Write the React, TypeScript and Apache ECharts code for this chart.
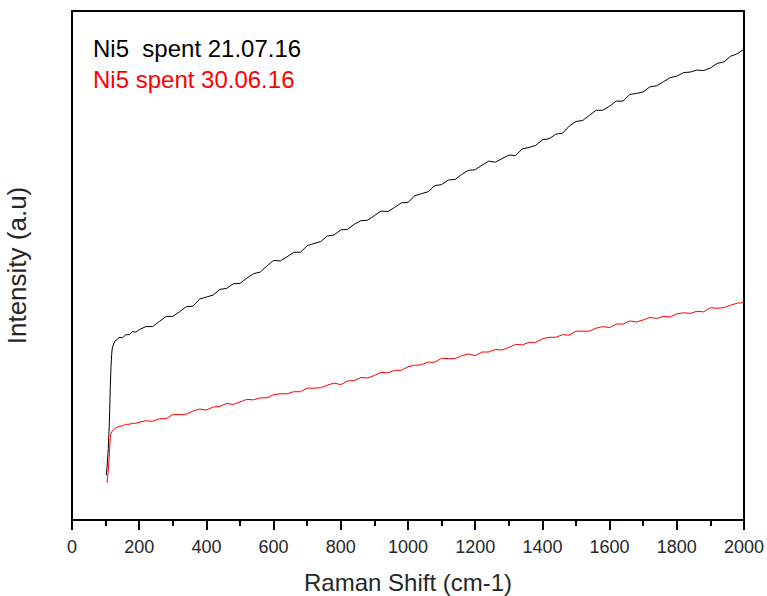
import React, { useEffect, useRef } from "react";
import * as echarts from "echarts";

const xTicks = ["0", "200", "400", "600", "800", "1000", "1200", "1400", "1600", "1800", "2000"];
const legendNames = ["Ni5  spent 21.07.16", "Ni5 spent 30.06.16"];

const blackSeries: [number, number][] = [
  [102, 8.8], [105, 11], [108, 14], [110, 17], [112, 21], [114, 26], [116, 30], [118, 32.5], [120, 33.8],
  [124, 34.6], [128, 35.2], [134, 35.4], [140, 35.9], [150, 35.8], [160, 36.4], [170, 36.4], [180, 37.0],
  [190, 36.9], [200, 37.4], [220, 38.0], [240, 38.0], [260, 39.0], [280, 40.0], [300, 40.0], [320, 40.9],
  [340, 41.9], [360, 42.0], [380, 43.4], [400, 43.8], [420, 44.2], [440, 45.3], [460, 45.5], [480, 46.4],
  [500, 46.5], [520, 47.5], [540, 48.4], [560, 48.7], [580, 49.9], [600, 51.0], [620, 50.9], [640, 51.7],
  [660, 52.6], [680, 52.6], [700, 53.9], [720, 54.3], [740, 54.7], [760, 55.8], [780, 56.0], [800, 57.0],
  [820, 57.1], [840, 58.1], [860, 58.8], [880, 58.9], [900, 59.8], [920, 60.7], [940, 60.6], [960, 61.4],
  [980, 62.3], [1000, 62.4], [1020, 63.7], [1040, 64.1], [1060, 64.5], [1080, 65.7], [1100, 65.9],
  [1120, 66.8], [1140, 66.9], [1160, 67.9], [1180, 68.7], [1200, 68.8], [1220, 69.7], [1240, 70.5],
  [1260, 70.3], [1280, 71.0], [1300, 71.7], [1320, 71.6], [1340, 72.9], [1360, 73.2], [1380, 73.6],
  [1400, 74.7], [1420, 74.9], [1440, 75.8], [1460, 76.0], [1480, 77.4], [1500, 78.3], [1520, 78.5],
  [1540, 79.5], [1560, 80.5], [1580, 80.5], [1600, 81.3], [1620, 82.3], [1640, 82.3], [1660, 83.6],
  [1680, 83.8], [1700, 84.1], [1720, 85.1], [1740, 85.3], [1760, 86.1], [1780, 86.9], [1800, 87.2],
  [1820, 87.9], [1840, 88.0], [1860, 88.4], [1880, 88.3], [1900, 88.8], [1920, 89.7], [1940, 90.0],
  [1960, 91.1], [1980, 91.6], [2000, 92.5],
];

const redSeries: [number, number][] = [
  [104, 7.3], [107, 9.0], [110, 11.5], [112, 14], [114, 16.2], [116, 17.0], [120, 17.5], [126, 17.9],
  [134, 18.2], [140, 18.4], [150, 18.5], [160, 18.8], [170, 18.8], [180, 19.0], [190, 19.0], [200, 19.2],
  [220, 19.5], [240, 19.4], [260, 19.9], [280, 19.9], [300, 20.7], [320, 20.7], [340, 20.8], [360, 21.4],
  [380, 21.8], [400, 21.6], [420, 22.2], [440, 22.3], [460, 22.9], [480, 22.7], [500, 23.2], [520, 23.7],
  [540, 23.6], [560, 24.0], [580, 24.0], [600, 24.6], [620, 24.8], [640, 24.8], [660, 25.2], [680, 25.2],
  [700, 25.9], [720, 25.9], [740, 26.0], [760, 26.5], [780, 26.9], [800, 26.6], [820, 27.3], [840, 27.4],
  [860, 28.0], [880, 27.9], [900, 28.4], [920, 29.0], [940, 28.9], [960, 29.4], [980, 29.4], [1000, 30.1],
  [1020, 30.4], [1040, 30.5], [1060, 31.0], [1080, 31.0], [1100, 31.8], [1120, 31.7], [1140, 31.7],
  [1160, 32.3], [1180, 32.6], [1200, 32.3], [1220, 33.0], [1240, 33.0], [1260, 33.5], [1280, 33.4],
  [1300, 33.9], [1320, 34.5], [1340, 34.4], [1360, 34.9], [1380, 34.9], [1400, 35.6], [1420, 35.9],
  [1440, 35.9], [1460, 36.4], [1480, 36.3], [1500, 37.1], [1520, 37.1], [1540, 37.1], [1560, 37.7],
  [1580, 38.0], [1600, 37.8], [1620, 38.5], [1640, 38.5], [1660, 39.1], [1680, 38.9], [1700, 39.3],
  [1720, 39.8], [1740, 39.6], [1760, 40.0], [1780, 39.9], [1800, 40.5], [1820, 40.7], [1840, 40.6],
  [1860, 41.0], [1880, 40.9], [1900, 41.7], [1920, 41.6], [1940, 41.7], [1960, 42.2], [1980, 42.6],
  [2000, 42.7],
];

const FONT = "'Liberation Sans', Arial, sans-serif";

export default function App() {
  const ref = useRef<HTMLDivElement>(null);
  useEffect(() => {
    if (!ref.current) return;
    const chart = echarts.init(ref.current, undefined, { renderer: "svg" });
    chart.setOption({
      animation: false,
      backgroundColor: "#ffffff",
      textStyle: { fontFamily: FONT },
      grid: {
        left: 72,
        right: 23,
        top: 11,
        bottom: 76,
        show: true,
        borderColor: "#000",
        borderWidth: 2,
        containLabel: false,
        outerBoundsMode: "none",
      },
      legend: {
        orient: "vertical",
        left: 83,
        top: 31,
        icon: "none",
        itemWidth: 0,
        itemHeight: 10,
        itemGap: 7,
        selectedMode: false,
        data: [
          { name: legendNames[0], textStyle: { color: "#000" } },
          { name: legendNames[1], textStyle: { color: "#ff0000" } },
        ],
        textStyle: { fontSize: 24, fontFamily: FONT },
      },
      xAxis: {
        type: "value",
        min: 0,
        max: 2000,
        interval: 200,
        name: "Raman Shift (cm-1)",
        nameLocation: "middle",
        nameGap: 50,
        nameTextStyle: { fontSize: 24, color: "#262626", fontFamily: FONT },
        axisLine: { show: true, onZero: false, lineStyle: { color: "#000", width: 2 } },
        axisTick: { show: true, inside: false, length: 10, lineStyle: { color: "#000", width: 2 } },
        minorTick: { show: true, splitNumber: 2, length: 6, lineStyle: { color: "#000", width: 2 } },
        axisLabel: {
          fontSize: 18,
          color: "#262626",
          margin: 18,
          fontFamily: FONT,
          formatter: (v: number) => xTicks[Math.round(v / 200)] ?? String(v),
        },
        splitLine: { show: false },
        minorSplitLine: { show: false },
      },
      yAxis: {
        type: "value",
        min: 0,
        max: 100,
        name: "Intensity (a.u)",
        nameLocation: "middle",
        nameGap: 42,
        nameTextStyle: { fontSize: 26, color: "#262626", fontFamily: FONT },
        axisLine: { show: true, onZero: false, lineStyle: { color: "#000", width: 2 } },
        axisTick: { show: false },
        axisLabel: { show: false },
        splitLine: { show: false },
      },
      series: [
        {
          name: legendNames[0],
          type: "line",
          data: blackSeries,
          showSymbol: false,
          symbol: "none",
          lineStyle: { color: "#000", width: 1 },
          itemStyle: { color: "#000" },
        },
        {
          name: legendNames[1],
          type: "line",
          data: redSeries,
          showSymbol: false,
          symbol: "none",
          lineStyle: { color: "#ff0000", width: 1 },
          itemStyle: { color: "#ff0000" },
        },
      ],
    });
    return () => chart.dispose();
  }, []);
  return (
    <div
      ref={ref}
      style={{ position: "fixed", left: 0, top: 0, width: 767, height: 596, background: "#fff" }}
    />
  );
}
